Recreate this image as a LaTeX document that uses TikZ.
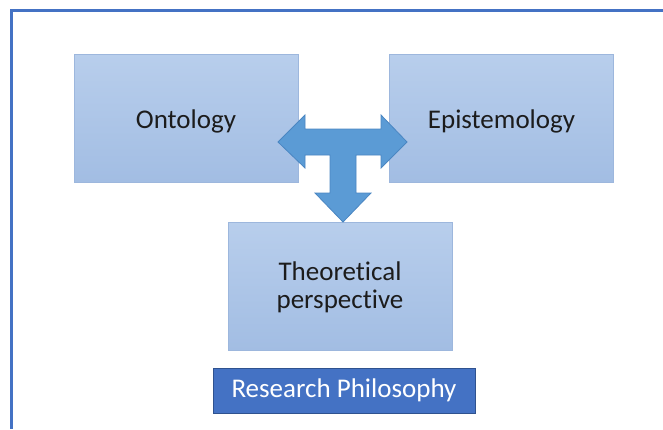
\documentclass[tikz,border=0pt]{standalone}
\usepackage{fontspec}
\setmainfont[Ligatures={NoCommon}]{Carlito}
\definecolor{framecol}{HTML}{4472C4}
\definecolor{boxtop}{HTML}{B8CEEC}
\definecolor{boxbot}{HTML}{A2BDE3}
\definecolor{boxline}{HTML}{9DB7DD}
\definecolor{arrowfill}{HTML}{5B9BD5}
\definecolor{arrowline}{HTML}{4A86C2}
\definecolor{labelfill}{HTML}{4472C4}
\definecolor{labelline}{HTML}{2F528F}
\definecolor{txt}{HTML}{1C1C1C}
% lower a text inside its node without changing the node's extent
\newcommand{\lowertext}[1]{\raisebox{-3pt}[\height][\depth]{#1}}
\begin{document}
\begin{tikzpicture}[x=1pt,y=-1pt,
  conceptbox/.style={draw=boxline, line width=0.8pt, top color=boxtop, bottom color=boxbot,
    minimum width=224pt, minimum height=128pt, inner sep=0pt,
    font=\fontsize{27}{28}\selectfont, text=txt},
  labelbox/.style={draw=labelline, line width=1pt, fill=labelfill, text=white,
    minimum width=262pt, minimum height=45pt, inner sep=0pt,
    font=\fontsize{27}{28}\selectfont},
  framerule/.style={draw=framecol, line width=3.5pt},
  bigarrow/.style={fill=arrowfill, draw=arrowline, line width=0.8pt, line join=miter}]
  \useasboundingbox (0,0) rectangle (663,429);
  \fill[white] (0,0) rectangle (663,429);
  % frame edges (top and left)
  \draw[framerule] (663,10.5) -- (11.5,10.5) -- (11.5,429);

  % concept boxes
  \node[conceptbox] (onto) at (186,118) {\lowertext{Ontology}};
  \node[conceptbox] (epis) at (501.5,118) {\lowertext{Epistemology}};
  \node[conceptbox] (theo) at (340,286)
    {\lowertext{\begin{tabular}{@{}c@{}}Theoretical\\perspective\end{tabular}}};
  \node[labelbox] (rp) at (344,390.5) {Research Philosophy};

  % T-shaped double arrow joining the two upper boxes and pointing down
  \draw[bigarrow] (278,142) -- (305,115) -- (305,129) -- (381,129) -- (381,115)
    -- (407,142) -- (381,168) -- (381,155) -- (356,155) -- (356,193) -- (371,193)
    -- (343,222) -- (315,193) -- (330,193) -- (330,155) -- (305,155) -- (305,168) -- cycle;
\end{tikzpicture}
\end{document}
